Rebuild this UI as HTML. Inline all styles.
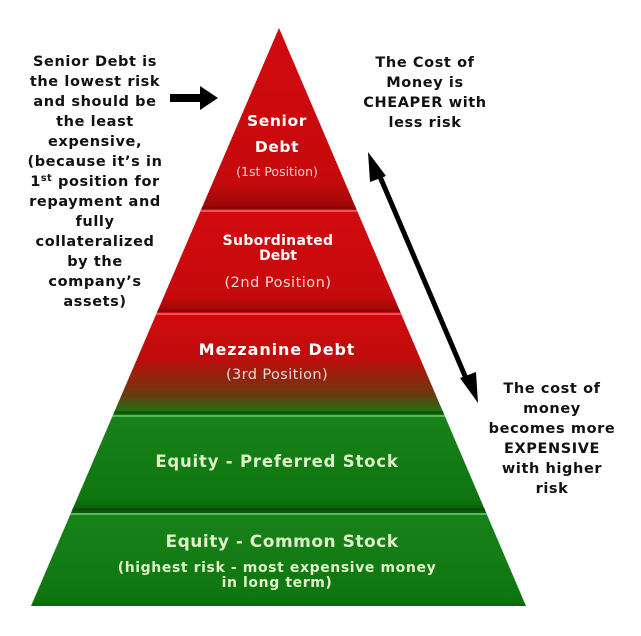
<!DOCTYPE html>
<html><head><meta charset="utf-8"><style>
html,body{margin:0;padding:0;background:#fff;}
svg{display:block;}
text{font-family:"DejaVu Sans","Liberation Sans",sans-serif;font-weight:bold;}
</style></head><body>
<svg width="641" height="636" viewBox="0 0 641 636" xmlns="http://www.w3.org/2000/svg">
<defs>
<linearGradient id="mz" x1="0" y1="0" x2="0" y2="1">
<stop offset="0" stop-color="#d10a0e"/><stop offset="0.45" stop-color="#c00c0c"/><stop offset="0.8" stop-color="#6a3a10"/><stop offset="1" stop-color="#157a12"/>
</linearGradient>
<linearGradient id="rd" x1="0" y1="0" x2="0" y2="1">
<stop offset="0" stop-color="#d20a10"/><stop offset="0.85" stop-color="#c60a0c"/><stop offset="1" stop-color="#9a0808"/>
</linearGradient>
<linearGradient id="gr" x1="0" y1="0" x2="0" y2="1">
<stop offset="0" stop-color="#18821a"/><stop offset="0.85" stop-color="#0f760f"/><stop offset="1" stop-color="#0a5a0a"/>
</linearGradient>
<clipPath id="tri"><polygon points="279,28 31,606 526,606"/></clipPath>
</defs>
<g clip-path="url(#tri)">
<rect x="0" y="20" width="641" height="189" fill="url(#rd)"/>
<rect x="0" y="209" width="641" height="103" fill="url(#rd)"/>
<rect x="0" y="312" width="641" height="103" fill="url(#mz)"/>
<rect x="0" y="415" width="641" height="98" fill="url(#gr)"/>
<rect x="0" y="513" width="641" height="100" fill="url(#gr)"/>
<rect x="0" y="206" width="641" height="3" fill="#8a0606"/>
<rect x="0" y="210" width="641" height="2" fill="#e8545a"/>
<rect x="0" y="309" width="641" height="3" fill="#8a0606"/>
<rect x="0" y="313" width="641" height="2" fill="#e8545a"/>
<rect x="0" y="411" width="641" height="3" fill="#0a5a0a"/>
<rect x="0" y="415" width="641" height="2" fill="#5ab85a"/>
<rect x="0" y="508" width="641" height="3" fill="#0a4e0a"/>
<rect x="0" y="513" width="641" height="2" fill="#5ab85a"/>
</g>
<g fill="#fff" text-anchor="middle">
<text x="277" y="126" font-size="15.5" letter-spacing="0.6">Senior</text>
<text x="277" y="152" font-size="15.5" letter-spacing="0.6">Debt</text>
<text x="277" y="176" font-size="12.5" style="font-weight:normal" fill="#f4d0d0">(1st Position)</text>
<text x="278" y="245" font-size="14" letter-spacing="0.3">Subordinated</text>
<text x="278" y="260" font-size="14">Debt</text>
<text x="278" y="287" font-size="14.5" style="font-weight:normal" fill="#f4d8d8" letter-spacing="0.5">(2nd Position)</text>
<text x="277" y="355" font-size="16" letter-spacing="0.9">Mezzanine Debt</text>
<text x="277" y="379" font-size="14.5" style="font-weight:normal" fill="#f4d8d8" letter-spacing="0.4">(3rd Position)</text>
</g>
<g fill="#dff0c8" text-anchor="middle">
<text x="277" y="467" font-size="16.5" letter-spacing="0.8">Equity - Preferred Stock</text>
<text x="282" y="547" font-size="17" letter-spacing="0.5">Equity - Common Stock</text>
<text x="277" y="572" font-size="14" letter-spacing="0.6">(highest risk - most expensive money</text>
<text x="277" y="587" font-size="14" letter-spacing="0.6">in long term)</text>
</g>
<g fill="#111" text-anchor="middle" font-size="14.5" letter-spacing="0.6">
<text x="95" y="66">Senior Debt is</text>
<text x="95" y="86">the lowest risk</text>
<text x="95" y="106">and should be</text>
<text x="95" y="126">the least</text>
<text x="95" y="146">expensive,</text>
<text x="95" y="166">(because it’s in</text>
<text x="95" y="186">1<tspan font-size="9.5" dy="-5">st</tspan><tspan dy="5"> position for</tspan></text>
<text x="95" y="206">repayment and</text>
<text x="95" y="226">fully</text>
<text x="95" y="246">collateralized</text>
<text x="95" y="266">by the</text>
<text x="95" y="286">company’s</text>
<text x="95" y="306">assets)</text>
<text x="425" y="67">The Cost of</text>
<text x="425" y="87">Money is</text>
<text x="425" y="107">CHEAPER with</text>
<text x="425" y="127">less risk</text>
<text x="552" y="393">The cost of</text>
<text x="552" y="413">money</text>
<text x="552" y="433">becomes more</text>
<text x="552" y="453">EXPENSIVE</text>
<text x="552" y="473">with higher</text>
<text x="552" y="493">risk</text>
</g>
<polygon points="170,94 200,94 200,86 218,98 200,110 200,102 170,102" fill="#000"/>
<line x1="378" y1="172" x2="468" y2="383" stroke="#000" stroke-width="5"/>
<polygon points="368,152 386,176 370,182" fill="#000"/>
<polygon points="478,403 460,378 476,372" fill="#000"/>
</svg>
</body></html>
